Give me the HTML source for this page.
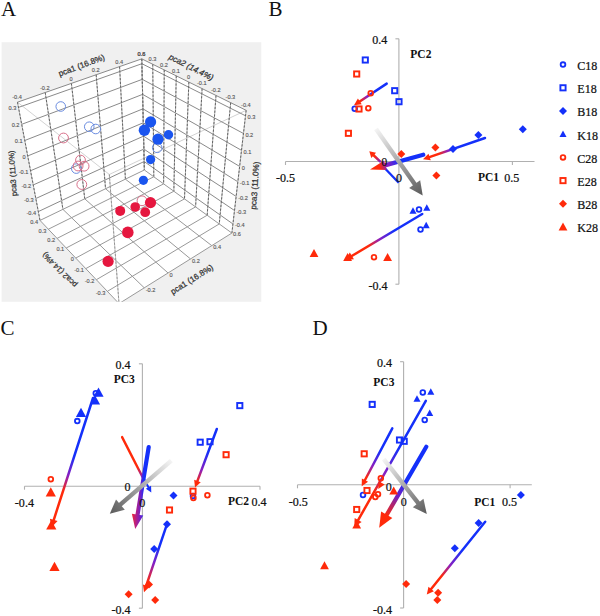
<!DOCTYPE html>
<html><head><meta charset="utf-8"><style>
html,body{margin:0;padding:0;background:#fff;}
svg{display:block;}
</style></head><body>
<svg width="600" height="616" viewBox="0 0 600 616">
<defs><clipPath id="clipA"><rect x="1.6" y="42.2" width="259.7" height="259.6"/></clipPath><linearGradient id="g1" gradientUnits="userSpaceOnUse" x1="386.7" y1="83.6" x2="354" y2="105.3"><stop offset="0" stop-color="#1430fa"/><stop offset="0.35" stop-color="#1430fa"/><stop offset="0.6" stop-color="#8a1fc0"/><stop offset="0.8" stop-color="#ff2a0a"/><stop offset="1" stop-color="#ff2a0a"/></linearGradient><linearGradient id="g2" gradientUnits="userSpaceOnUse" x1="380" y1="161.3" x2="369.3" y2="151.3"><stop offset="0" stop-color="#8a1fc0"/><stop offset="0.5" stop-color="#ff2a0a"/><stop offset="1" stop-color="#ff2a0a"/></linearGradient><linearGradient id="g3" gradientUnits="userSpaceOnUse" x1="485" y1="138" x2="423" y2="159.3"><stop offset="0" stop-color="#1430fa"/><stop offset="0.5" stop-color="#1430fa"/><stop offset="0.6" stop-color="#8a1fc0"/><stop offset="0.75" stop-color="#ff2a0a"/><stop offset="1" stop-color="#ff2a0a"/></linearGradient><linearGradient id="g4" gradientUnits="userSpaceOnUse" x1="422.2" y1="214" x2="345" y2="260"><stop offset="0" stop-color="#1430fa"/><stop offset="0.37" stop-color="#1430fa"/><stop offset="0.55" stop-color="#8a1fc0"/><stop offset="0.7" stop-color="#ff2a0a"/><stop offset="1" stop-color="#ff2a0a"/></linearGradient><linearGradient id="g5" gradientUnits="userSpaceOnUse" x1="423.3" y1="154.7" x2="370" y2="169.5"><stop offset="0" stop-color="#1430fa"/><stop offset="0.45" stop-color="#1430fa"/><stop offset="0.68" stop-color="#8a1fc0"/><stop offset="0.82" stop-color="#ff2a0a"/><stop offset="1" stop-color="#ff2a0a"/></linearGradient><linearGradient id="g6" gradientUnits="userSpaceOnUse" x1="376" y1="129" x2="422.7" y2="195.5"><stop offset="0" stop-color="#f4f4f4"/><stop offset="1" stop-color="#5a5a5a"/></linearGradient><linearGradient id="g7" gradientUnits="userSpaceOnUse" x1="93" y1="398" x2="51.3" y2="527.5"><stop offset="0" stop-color="#1430fa"/><stop offset="0.45" stop-color="#1430fa"/><stop offset="0.6" stop-color="#8a1fc0"/><stop offset="0.72" stop-color="#ff2a0a"/><stop offset="1" stop-color="#ff2a0a"/></linearGradient><linearGradient id="g8" gradientUnits="userSpaceOnUse" x1="142.5" y1="477" x2="122.1" y2="437.1"><stop offset="0" stop-color="#8a1fc0"/><stop offset="0.25" stop-color="#ff2a0a"/><stop offset="1" stop-color="#ff2a0a"/></linearGradient><linearGradient id="g9" gradientUnits="userSpaceOnUse" x1="149.5" y1="500" x2="130.5" y2="500"><stop offset="0" stop-color="#1430fa"/><stop offset="0.28" stop-color="#1430fa"/><stop offset="0.45" stop-color="#6a20d0"/><stop offset="0.75" stop-color="#c0207a"/><stop offset="1" stop-color="#ff2a0a"/></linearGradient><linearGradient id="g10" gradientUnits="userSpaceOnUse" x1="144" y1="479" x2="151.3" y2="492.5"><stop offset="0" stop-color="#1430fa"/><stop offset="1" stop-color="#1430fa"/></linearGradient><linearGradient id="g11" gradientUnits="userSpaceOnUse" x1="216.8" y1="429" x2="195" y2="487.5"><stop offset="0" stop-color="#1430fa"/><stop offset="0.4" stop-color="#1430fa"/><stop offset="0.7" stop-color="#8a1fc0"/><stop offset="0.9" stop-color="#ff2a0a"/><stop offset="1" stop-color="#ff2a0a"/></linearGradient><linearGradient id="g12" gradientUnits="userSpaceOnUse" x1="167.5" y1="522.7" x2="144" y2="592.2"><stop offset="0" stop-color="#1430fa"/><stop offset="0.35" stop-color="#1430fa"/><stop offset="0.6" stop-color="#8a1fc0"/><stop offset="0.85" stop-color="#ff2a0a"/><stop offset="1" stop-color="#ff2a0a"/></linearGradient><linearGradient id="g13" gradientUnits="userSpaceOnUse" x1="171.3" y1="460.7" x2="109.8" y2="513.7"><stop offset="0" stop-color="#f4f4f4"/><stop offset="1" stop-color="#5a5a5a"/></linearGradient><linearGradient id="g14" gradientUnits="userSpaceOnUse" x1="392.3" y1="428.3" x2="361.7" y2="486.3"><stop offset="0" stop-color="#1430fa"/><stop offset="0.4" stop-color="#1430fa"/><stop offset="0.65" stop-color="#8a1fc0"/><stop offset="0.85" stop-color="#ff2a0a"/><stop offset="1" stop-color="#ff2a0a"/></linearGradient><linearGradient id="g15" gradientUnits="userSpaceOnUse" x1="425.8" y1="400.8" x2="354.2" y2="527"><stop offset="0" stop-color="#1430fa"/><stop offset="0.38" stop-color="#1430fa"/><stop offset="0.58" stop-color="#8a1fc0"/><stop offset="0.72" stop-color="#ff2a0a"/><stop offset="1" stop-color="#ff2a0a"/></linearGradient><linearGradient id="g16" gradientUnits="userSpaceOnUse" x1="426.3" y1="446.7" x2="379.2" y2="527.8"><stop offset="0" stop-color="#1430fa"/><stop offset="0.4" stop-color="#1430fa"/><stop offset="0.6" stop-color="#6a20c8"/><stop offset="0.85" stop-color="#ff2a0a"/><stop offset="1" stop-color="#ff2a0a"/></linearGradient><linearGradient id="g17" gradientUnits="userSpaceOnUse" x1="485.2" y1="521.8" x2="426.8" y2="594.4"><stop offset="0" stop-color="#1430fa"/><stop offset="0.4" stop-color="#1430fa"/><stop offset="0.6" stop-color="#8a1fc0"/><stop offset="0.75" stop-color="#ff2a0a"/><stop offset="1" stop-color="#ff2a0a"/></linearGradient><linearGradient id="g18" gradientUnits="userSpaceOnUse" x1="425.8" y1="400.8" x2="378.3" y2="489"><stop offset="0" stop-color="#ff2a0a"/><stop offset="1" stop-color="#ff2a0a"/></linearGradient><linearGradient id="g19" gradientUnits="userSpaceOnUse" x1="383.7" y1="459.2" x2="426.8" y2="514"><stop offset="0" stop-color="#f4f4f4"/><stop offset="1" stop-color="#5a5a5a"/></linearGradient></defs>
<rect x="1.6" y="42.2" width="259.7" height="259.6" fill="#f0f0f0"/>
<g clip-path="url(#clipA)">
<polygon points="17.47,102.18 141.79,58.87 144.37,169.99 40,220.42" fill="#ffffff" />
<polygon points="141.79,58.87 246.15,110.32 231.89,233.06 144.37,169.99" fill="#ffffff" />
<polygon points="40,220.42 144.37,169.99 231.89,233.06 119.02,303.6" fill="#ffffff" />
<line x1="17.47" y1="102.18" x2="109.32" y2="174.46" stroke="#c6c6c6" stroke-width="0.8" />
<line x1="246.15" y1="110.32" x2="109.32" y2="174.46" stroke="#c6c6c6" stroke-width="0.8" />
<line x1="109.32" y1="174.46" x2="119.02" y2="303.6" stroke="#c0c0c0" stroke-width="0.9" />
<line x1="109.32" y1="174.46" x2="119.02" y2="303.6" stroke="#888" stroke-width="0.8" stroke-dasharray="2.2,1.6"/>
<line x1="18.46" y1="107.41" x2="141.91" y2="63.69" stroke="#8a8a8a" stroke-width="1.0" />
<line x1="21.69" y1="124.32" x2="142.27" y2="79.33" stroke="#8a8a8a" stroke-width="1.0" />
<line x1="24.77" y1="140.49" x2="142.62" y2="94.37" stroke="#8a8a8a" stroke-width="1.0" />
<line x1="27.71" y1="155.94" x2="142.95" y2="108.83" stroke="#8a8a8a" stroke-width="1.0" />
<line x1="30.53" y1="170.74" x2="143.27" y2="122.75" stroke="#8a8a8a" stroke-width="1.0" />
<line x1="33.24" y1="184.93" x2="143.58" y2="136.15" stroke="#8a8a8a" stroke-width="1.0" />
<line x1="35.83" y1="198.53" x2="143.88" y2="149.07" stroke="#8a8a8a" stroke-width="1.0" />
<line x1="38.32" y1="211.59" x2="144.17" y2="161.53" stroke="#8a8a8a" stroke-width="1.0" />
<line x1="17.47" y1="102.18" x2="141.79" y2="58.87" stroke="#8a8a8a" stroke-width="1.0" />
<line x1="17.47" y1="102.18" x2="40" y2="220.42" stroke="#b5b5b5" stroke-width="1.0" />
<line x1="17.47" y1="102.18" x2="40" y2="220.42" stroke="#5a5a5a" stroke-width="0.9" stroke-dasharray="2.2,1.6"/>
<line x1="45.21" y1="92.51" x2="62.92" y2="209.35" stroke="#b5b5b5" stroke-width="1.0" />
<line x1="45.21" y1="92.51" x2="62.92" y2="209.35" stroke="#5a5a5a" stroke-width="0.9" stroke-dasharray="2.2,1.6"/>
<line x1="71.4" y1="83.39" x2="84.74" y2="198.8" stroke="#b5b5b5" stroke-width="1.0" />
<line x1="71.4" y1="83.39" x2="84.74" y2="198.8" stroke="#5a5a5a" stroke-width="0.9" stroke-dasharray="2.2,1.6"/>
<line x1="96.15" y1="74.77" x2="105.55" y2="188.75" stroke="#b5b5b5" stroke-width="1.0" />
<line x1="96.15" y1="74.77" x2="105.55" y2="188.75" stroke="#5a5a5a" stroke-width="0.9" stroke-dasharray="2.2,1.6"/>
<line x1="119.58" y1="66.61" x2="125.4" y2="179.16" stroke="#b5b5b5" stroke-width="1.0" />
<line x1="119.58" y1="66.61" x2="125.4" y2="179.16" stroke="#5a5a5a" stroke-width="0.9" stroke-dasharray="2.2,1.6"/>
<line x1="141.79" y1="58.87" x2="144.37" y2="169.99" stroke="#b5b5b5" stroke-width="1.0" />
<line x1="141.79" y1="58.87" x2="144.37" y2="169.99" stroke="#5a5a5a" stroke-width="0.9" stroke-dasharray="2.2,1.6"/>
<line x1="141.91" y1="63.69" x2="245.52" y2="115.79" stroke="#8a8a8a" stroke-width="1.0" />
<line x1="142.27" y1="79.33" x2="243.46" y2="133.48" stroke="#8a8a8a" stroke-width="1.0" />
<line x1="142.62" y1="94.37" x2="241.5" y2="150.33" stroke="#8a8a8a" stroke-width="1.0" />
<line x1="142.95" y1="108.83" x2="239.63" y2="166.41" stroke="#8a8a8a" stroke-width="1.0" />
<line x1="143.27" y1="122.75" x2="237.85" y2="181.77" stroke="#8a8a8a" stroke-width="1.0" />
<line x1="143.58" y1="136.15" x2="236.14" y2="196.45" stroke="#8a8a8a" stroke-width="1.0" />
<line x1="143.88" y1="149.07" x2="234.51" y2="210.51" stroke="#8a8a8a" stroke-width="1.0" />
<line x1="144.17" y1="161.53" x2="232.94" y2="223.97" stroke="#8a8a8a" stroke-width="1.0" />
<line x1="141.79" y1="58.87" x2="246.15" y2="110.32" stroke="#8a8a8a" stroke-width="1.0" />
<line x1="141.79" y1="58.87" x2="144.37" y2="169.99" stroke="#b5b5b5" stroke-width="1.0" />
<line x1="141.79" y1="58.87" x2="144.37" y2="169.99" stroke="#5a5a5a" stroke-width="0.9" stroke-dasharray="2.2,1.6"/>
<line x1="152.75" y1="64.27" x2="153.81" y2="176.8" stroke="#b5b5b5" stroke-width="1.0" />
<line x1="152.75" y1="64.27" x2="153.81" y2="176.8" stroke="#5a5a5a" stroke-width="0.9" stroke-dasharray="2.2,1.6"/>
<line x1="164.23" y1="69.93" x2="163.63" y2="183.87" stroke="#b5b5b5" stroke-width="1.0" />
<line x1="164.23" y1="69.93" x2="163.63" y2="183.87" stroke="#5a5a5a" stroke-width="0.9" stroke-dasharray="2.2,1.6"/>
<line x1="176.25" y1="75.86" x2="173.85" y2="191.24" stroke="#b5b5b5" stroke-width="1.0" />
<line x1="176.25" y1="75.86" x2="173.85" y2="191.24" stroke="#5a5a5a" stroke-width="0.9" stroke-dasharray="2.2,1.6"/>
<line x1="188.86" y1="82.07" x2="184.49" y2="198.9" stroke="#b5b5b5" stroke-width="1.0" />
<line x1="188.86" y1="82.07" x2="184.49" y2="198.9" stroke="#5a5a5a" stroke-width="0.9" stroke-dasharray="2.2,1.6"/>
<line x1="202.1" y1="88.6" x2="195.58" y2="206.9" stroke="#b5b5b5" stroke-width="1.0" />
<line x1="202.1" y1="88.6" x2="195.58" y2="206.9" stroke="#5a5a5a" stroke-width="0.9" stroke-dasharray="2.2,1.6"/>
<line x1="216.03" y1="95.47" x2="207.16" y2="215.24" stroke="#b5b5b5" stroke-width="1.0" />
<line x1="216.03" y1="95.47" x2="207.16" y2="215.24" stroke="#5a5a5a" stroke-width="0.9" stroke-dasharray="2.2,1.6"/>
<line x1="230.69" y1="102.69" x2="219.25" y2="223.95" stroke="#b5b5b5" stroke-width="1.0" />
<line x1="230.69" y1="102.69" x2="219.25" y2="223.95" stroke="#5a5a5a" stroke-width="0.9" stroke-dasharray="2.2,1.6"/>
<line x1="246.15" y1="110.32" x2="231.89" y2="233.06" stroke="#b5b5b5" stroke-width="1.0" />
<line x1="246.15" y1="110.32" x2="231.89" y2="233.06" stroke="#5a5a5a" stroke-width="0.9" stroke-dasharray="2.2,1.6"/>
<line x1="40" y1="220.42" x2="119.02" y2="303.6" stroke="#999" stroke-width="1.0" />
<line x1="62.92" y1="209.35" x2="144.25" y2="287.82" stroke="#999" stroke-width="1.0" />
<line x1="84.74" y1="198.8" x2="168.04" y2="272.96" stroke="#999" stroke-width="1.0" />
<line x1="105.55" y1="188.75" x2="190.51" y2="258.92" stroke="#999" stroke-width="1.0" />
<line x1="125.4" y1="179.16" x2="211.76" y2="245.64" stroke="#999" stroke-width="1.0" />
<line x1="144.37" y1="169.99" x2="231.89" y2="233.06" stroke="#999" stroke-width="1.0" />
<line x1="40" y1="220.42" x2="144.37" y2="169.99" stroke="#999" stroke-width="1.0" />
<line x1="48.35" y1="229.21" x2="153.81" y2="176.8" stroke="#999" stroke-width="1.0" />
<line x1="57.08" y1="238.4" x2="163.63" y2="183.87" stroke="#999" stroke-width="1.0" />
<line x1="66.21" y1="248.01" x2="173.85" y2="191.24" stroke="#999" stroke-width="1.0" />
<line x1="75.78" y1="258.07" x2="184.49" y2="198.9" stroke="#999" stroke-width="1.0" />
<line x1="85.8" y1="268.63" x2="195.58" y2="206.9" stroke="#999" stroke-width="1.0" />
<line x1="96.32" y1="279.71" x2="207.16" y2="215.24" stroke="#999" stroke-width="1.0" />
<line x1="107.38" y1="291.35" x2="219.25" y2="223.95" stroke="#999" stroke-width="1.0" />
<line x1="119.02" y1="303.6" x2="231.89" y2="233.06" stroke="#999" stroke-width="1.0" />
</g>
<circle cx="60.75" cy="106.5" r="4.8" fill="none" stroke="#6a8ce0" stroke-width="1.0"/>
<circle cx="89.25" cy="126.75" r="4.8" fill="none" stroke="#6a8ce0" stroke-width="1.0"/>
<circle cx="95.75" cy="129" r="4.8" fill="none" stroke="#6a8ce0" stroke-width="1.0"/>
<circle cx="76.3" cy="168.6" r="4.8" fill="none" stroke="#6a8ce0" stroke-width="1.0"/>
<circle cx="157.2" cy="147.8" r="4.8" fill="none" stroke="#6a8ce0" stroke-width="1.0"/>
<circle cx="63.5" cy="138" r="4.9" fill="none" stroke="#d8708a" stroke-width="1.0"/>
<circle cx="80.5" cy="160.1" r="4.9" fill="none" stroke="#d8708a" stroke-width="1.0"/>
<circle cx="78.1" cy="166" r="4.9" fill="none" stroke="#d8708a" stroke-width="1.0"/>
<circle cx="84.1" cy="166.2" r="4.9" fill="none" stroke="#d8708a" stroke-width="1.0"/>
<circle cx="81.8" cy="184.5" r="4.9" fill="none" stroke="#d8708a" stroke-width="1.0"/>
<circle cx="142" cy="200.8" r="4.9" fill="none" stroke="#d8708a" stroke-width="1.0"/>
<circle cx="150.6" cy="121.9" r="5.6" fill="#1a55ef" stroke="none" stroke-width="1"/>
<circle cx="144.4" cy="130.3" r="5.7" fill="#1a55ef" stroke="none" stroke-width="1"/>
<circle cx="158" cy="139.2" r="5.6" fill="#1a55ef" stroke="none" stroke-width="1"/>
<circle cx="168.5" cy="134.8" r="4.7" fill="#1a55ef" stroke="none" stroke-width="1"/>
<circle cx="150.6" cy="159.6" r="4.6" fill="#1a55ef" stroke="none" stroke-width="1"/>
<circle cx="143.4" cy="180.3" r="4.6" fill="#1a55ef" stroke="none" stroke-width="1"/>
<circle cx="150.5" cy="202.6" r="5.6" fill="#e5173f" stroke="none" stroke-width="1"/>
<circle cx="135.2" cy="207" r="4.8" fill="#e5173f" stroke="none" stroke-width="1"/>
<circle cx="145.2" cy="212.2" r="4.9" fill="#e5173f" stroke="none" stroke-width="1"/>
<circle cx="120.2" cy="210.9" r="5" fill="#e5173f" stroke="none" stroke-width="1"/>
<circle cx="127.8" cy="232.4" r="5.8" fill="#e5173f" stroke="none" stroke-width="1"/>
<circle cx="108.1" cy="261.4" r="5.6" fill="#e5173f" stroke="none" stroke-width="1"/>
<text x="17.07" y="99.38" font-family="Liberation Sans" font-size="5.6" text-anchor="middle" fill="#555" stroke="#555" stroke-width="0.12"  >-0.4</text>
<text x="44.81" y="89.71" font-family="Liberation Sans" font-size="5.6" text-anchor="middle" fill="#555" stroke="#555" stroke-width="0.12"  >-0.2</text>
<text x="71" y="80.59" font-family="Liberation Sans" font-size="5.6" text-anchor="middle" fill="#555" stroke="#555" stroke-width="0.12"  >0</text>
<text x="95.75" y="71.97" font-family="Liberation Sans" font-size="5.6" text-anchor="middle" fill="#555" stroke="#555" stroke-width="0.12"  >0.2</text>
<text x="119.18" y="63.81" font-family="Liberation Sans" font-size="5.6" text-anchor="middle" fill="#555" stroke="#555" stroke-width="0.12"  >0.4</text>
<text x="141.39" y="56.07" font-family="Liberation Sans" font-size="5.6" text-anchor="middle" fill="#555" stroke="#555" stroke-width="0.12"  >0.6</text>
<text x="141.49" y="55.67" font-family="Liberation Sans" font-size="5.6" text-anchor="middle" fill="#555" stroke="#555" stroke-width="0.12"  >0.8</text>
<text x="152.45" y="61.07" font-family="Liberation Sans" font-size="5.6" text-anchor="middle" fill="#555" stroke="#555" stroke-width="0.12"  >0.3</text>
<text x="163.93" y="66.73" font-family="Liberation Sans" font-size="5.6" text-anchor="middle" fill="#555" stroke="#555" stroke-width="0.12"  >0.2</text>
<text x="175.95" y="72.66" font-family="Liberation Sans" font-size="5.6" text-anchor="middle" fill="#555" stroke="#555" stroke-width="0.12"  >0.1</text>
<text x="188.56" y="78.87" font-family="Liberation Sans" font-size="5.6" text-anchor="middle" fill="#555" stroke="#555" stroke-width="0.12"  >0</text>
<text x="201.8" y="85.4" font-family="Liberation Sans" font-size="5.6" text-anchor="middle" fill="#555" stroke="#555" stroke-width="0.12"  >-0.1</text>
<text x="215.73" y="92.27" font-family="Liberation Sans" font-size="5.6" text-anchor="middle" fill="#555" stroke="#555" stroke-width="0.12"  >-0.2</text>
<text x="230.39" y="99.49" font-family="Liberation Sans" font-size="5.6" text-anchor="middle" fill="#555" stroke="#555" stroke-width="0.12"  >-0.3</text>
<text x="245.85" y="107.12" font-family="Liberation Sans" font-size="5.6" text-anchor="middle" fill="#555" stroke="#555" stroke-width="0.12"  >-0.4</text>
<text x="16.26" y="110.41" font-family="Liberation Sans" font-size="5.6" text-anchor="end" fill="#555" stroke="#555" stroke-width="0.12"  >0.3</text>
<text x="19.49" y="127.32" font-family="Liberation Sans" font-size="5.6" text-anchor="end" fill="#555" stroke="#555" stroke-width="0.12"  >0.2</text>
<text x="22.57" y="143.49" font-family="Liberation Sans" font-size="5.6" text-anchor="end" fill="#555" stroke="#555" stroke-width="0.12"  >0.1</text>
<text x="25.51" y="158.94" font-family="Liberation Sans" font-size="5.6" text-anchor="end" fill="#555" stroke="#555" stroke-width="0.12"  >0</text>
<text x="28.33" y="173.74" font-family="Liberation Sans" font-size="5.6" text-anchor="end" fill="#555" stroke="#555" stroke-width="0.12"  >-0.1</text>
<text x="31.04" y="187.93" font-family="Liberation Sans" font-size="5.6" text-anchor="end" fill="#555" stroke="#555" stroke-width="0.12"  >-0.2</text>
<text x="33.63" y="201.53" font-family="Liberation Sans" font-size="5.6" text-anchor="end" fill="#555" stroke="#555" stroke-width="0.12"  >-0.3</text>
<text x="36.12" y="214.59" font-family="Liberation Sans" font-size="5.6" text-anchor="end" fill="#555" stroke="#555" stroke-width="0.12"  >-0.4</text>
<text x="247.52" y="119.29" font-family="Liberation Sans" font-size="5.6" text-anchor="start" fill="#555" stroke="#555" stroke-width="0.12"  >0.3</text>
<text x="245.46" y="136.98" font-family="Liberation Sans" font-size="5.6" text-anchor="start" fill="#555" stroke="#555" stroke-width="0.12"  >0.2</text>
<text x="243.5" y="153.83" font-family="Liberation Sans" font-size="5.6" text-anchor="start" fill="#555" stroke="#555" stroke-width="0.12"  >0.1</text>
<text x="241.63" y="169.91" font-family="Liberation Sans" font-size="5.6" text-anchor="start" fill="#555" stroke="#555" stroke-width="0.12"  >0</text>
<text x="239.85" y="185.27" font-family="Liberation Sans" font-size="5.6" text-anchor="start" fill="#555" stroke="#555" stroke-width="0.12"  >-0.1</text>
<text x="238.14" y="199.95" font-family="Liberation Sans" font-size="5.6" text-anchor="start" fill="#555" stroke="#555" stroke-width="0.12"  >-0.2</text>
<text x="236.51" y="214.01" font-family="Liberation Sans" font-size="5.6" text-anchor="start" fill="#555" stroke="#555" stroke-width="0.12"  >-0.3</text>
<text x="234.94" y="227.47" font-family="Liberation Sans" font-size="5.6" text-anchor="start" fill="#555" stroke="#555" stroke-width="0.12"  >-0.4</text>
<text x="233.09" y="236.26" font-family="Liberation Sans" font-size="5.6" text-anchor="start" fill="#555" stroke="#555" stroke-width="0.12"  >0.6</text>
<text x="38" y="223.72" font-family="Liberation Sans" font-size="5.6" text-anchor="end" fill="#555" stroke="#555" stroke-width="0.12"  >0.4</text>
<text x="46.35" y="232.51" font-family="Liberation Sans" font-size="5.6" text-anchor="end" fill="#555" stroke="#555" stroke-width="0.12"  >0.3</text>
<text x="55.08" y="241.7" font-family="Liberation Sans" font-size="5.6" text-anchor="end" fill="#555" stroke="#555" stroke-width="0.12"  >0.2</text>
<text x="64.21" y="251.31" font-family="Liberation Sans" font-size="5.6" text-anchor="end" fill="#555" stroke="#555" stroke-width="0.12"  >0.1</text>
<text x="73.78" y="261.37" font-family="Liberation Sans" font-size="5.6" text-anchor="end" fill="#555" stroke="#555" stroke-width="0.12"  >0</text>
<text x="83.8" y="271.93" font-family="Liberation Sans" font-size="5.6" text-anchor="end" fill="#555" stroke="#555" stroke-width="0.12"  >-0.1</text>
<text x="94.32" y="283.01" font-family="Liberation Sans" font-size="5.6" text-anchor="end" fill="#555" stroke="#555" stroke-width="0.12"  >-0.2</text>
<text x="105.38" y="294.65" font-family="Liberation Sans" font-size="5.6" text-anchor="end" fill="#555" stroke="#555" stroke-width="0.12"  >-0.3</text>
<text x="145.75" y="291.62" font-family="Liberation Sans" font-size="5.6" text-anchor="start" fill="#555" stroke="#555" stroke-width="0.12"  >-0.2</text>
<text x="169.54" y="276.76" font-family="Liberation Sans" font-size="5.6" text-anchor="start" fill="#555" stroke="#555" stroke-width="0.12"  >0</text>
<text x="192.01" y="262.72" font-family="Liberation Sans" font-size="5.6" text-anchor="start" fill="#555" stroke="#555" stroke-width="0.12"  >0.2</text>
<text x="213.26" y="249.44" font-family="Liberation Sans" font-size="5.6" text-anchor="start" fill="#555" stroke="#555" stroke-width="0.12"  >0.4</text>
<text x="82.56" y="68" font-family="Liberation Sans" font-size="8.2" text-anchor="middle" fill="#333" stroke="#333" stroke-width="0.25" transform="rotate(-20.5 82.56 68)" >pca1 (16.8%)</text>
<text x="189.88" y="69.69" font-family="Liberation Sans" font-size="8.2" text-anchor="middle" fill="#333" stroke="#333" stroke-width="0.25" transform="rotate(27 189.88 69.69)" font-style="italic">pca2 (14.4%)</text>
<text x="15.33" y="173.14" font-family="Liberation Sans" font-size="7.8" text-anchor="middle" fill="#333" stroke="#333" stroke-width="0.25" transform="rotate(-94 15.33 173.14)" >pca3 (11.0%)</text>
<text x="257.65" y="185.77" font-family="Liberation Sans" font-size="8.2" text-anchor="middle" fill="#333" stroke="#333" stroke-width="0.25" transform="rotate(-86 257.65 185.77)" >pca3 (11.0%)</text>
<text x="61.45" y="267.98" font-family="Liberation Sans" font-size="7.7" text-anchor="middle" fill="#333" stroke="#333" stroke-width="0.25" transform="rotate(225.5 61.45 267.98)" >pca2 (14.4%)</text>
<text x="193.3" y="281.79" font-family="Liberation Sans" font-size="8.2" text-anchor="middle" fill="#333" stroke="#333" stroke-width="0.25" transform="rotate(-32 193.3 281.79)" >pca1 (16.8%)</text>
<text x="1" y="16" font-family="Liberation Serif" font-size="21" font-weight="normal" text-anchor="start" fill="#111" >A</text>
<text x="268.5" y="16" font-family="Liberation Serif" font-size="21" font-weight="normal" text-anchor="start" fill="#111" >B</text>
<text x="0.5" y="334.7" font-family="Liberation Serif" font-size="21" font-weight="normal" text-anchor="start" fill="#111" >C</text>
<text x="312.5" y="335" font-family="Liberation Serif" font-size="21" font-weight="normal" text-anchor="start" fill="#111" >D</text>
<line x1="285.5" y1="161.5" x2="534.5" y2="161.5" stroke="#b0b0b0" stroke-width="1.1" />
<line x1="398.9" y1="38.8" x2="398.9" y2="284.2" stroke="#b0b0b0" stroke-width="1.1" />
<line x1="285.5" y1="161.5" x2="285.5" y2="165" stroke="#b0b0b0" stroke-width="1.1" />
<line x1="512.4" y1="161.5" x2="512.4" y2="165" stroke="#b0b0b0" stroke-width="1.1" />
<line x1="395.4" y1="38.8" x2="398.9" y2="38.8" stroke="#b0b0b0" stroke-width="1.1" />
<line x1="395.4" y1="284.2" x2="398.9" y2="284.2" stroke="#b0b0b0" stroke-width="1.1" />
<g id="B">
<line x1="385.3" y1="168.7" x2="398.7" y2="182.7" stroke="#1430fa" stroke-width="2.3" />
<line x1="386.7" y1="83.6" x2="358.96" y2="102.01" stroke="url(#g1)" stroke-width="2.5" stroke-linecap="round"/>
<polygon points="354,105.3 357.9,98.51 361.77,104.35" fill="url(#g1)"/>
<line x1="380" y1="161.3" x2="373.03" y2="154.78" stroke="url(#g2)" stroke-width="2.5" stroke-linecap="round"/>
<polygon points="369.3,151.3 376.07,152.84 371.29,157.95" fill="url(#g2)"/>
<line x1="485" y1="138" x2="428.63" y2="157.37" stroke="url(#g3)" stroke-width="2.5" stroke-linecap="round"/>
<polygon points="423,159.3 428.48,153.72 430.76,160.34" fill="url(#g3)"/>
<line x1="422.2" y1="214" x2="350.84" y2="256.52" stroke="url(#g4)" stroke-width="2.5" stroke-linecap="round"/>
<polygon points="345,260 349.82,252.47 353.92,259.34" fill="url(#g4)"/>
<line x1="423.3" y1="154.7" x2="383.1" y2="165.86" stroke="url(#g5)" stroke-width="4.2" stroke-linecap="round"/>
<polygon points="370,169.5 384.08,160.4 386.75,170.04" fill="url(#g5)"/>
<line x1="376" y1="129" x2="415.86" y2="185.76" stroke="url(#g6)" stroke-width="4.4" stroke-linecap="butt"/>
<polygon points="422.7,195.5 409.13,187.92 420.18,180.16" fill="url(#g6)"/>
</g>
<circle cx="354.7" cy="108.7" r="2.35" fill="none" stroke="#1430fa" stroke-width="1.8"/>
<circle cx="419" cy="209.5" r="2.35" fill="none" stroke="#1430fa" stroke-width="1.8"/>
<circle cx="420.5" cy="229.5" r="2.35" fill="none" stroke="#1430fa" stroke-width="1.8"/>
<rect x="362.7" y="57.4" width="5.2" height="5.2" fill="none" stroke="#1430fa" stroke-width="1.9"/>
<rect x="392.1" y="88.1" width="5.2" height="5.2" fill="none" stroke="#1430fa" stroke-width="1.9"/>
<rect x="396.4" y="99.1" width="5.2" height="5.2" fill="none" stroke="#1430fa" stroke-width="1.9"/>
<polygon points="522.8,125.2 526.8,129.2 522.8,133.2 518.8,129.2" fill="#1430fa"/>
<polygon points="478.4,131 482.4,135 478.4,139 474.4,135" fill="#1430fa"/>
<polygon points="453,145 457,149 453,153 449,149" fill="#1430fa"/>
<polygon points="413,207.32 416.52,213.72 409.48,213.72" fill="#1430fa"/>
<polygon points="426.8,204.32 430.32,210.72 423.28,210.72" fill="#1430fa"/>
<polygon points="426.2,221.82 429.72,228.22 422.68,228.22" fill="#1430fa"/>
<circle cx="370.7" cy="93.3" r="2.35" fill="none" stroke="#ff2a0a" stroke-width="1.8"/>
<circle cx="368.3" cy="108.3" r="2.35" fill="none" stroke="#ff2a0a" stroke-width="1.8"/>
<circle cx="374" cy="257.2" r="2.35" fill="none" stroke="#ff2a0a" stroke-width="1.8"/>
<rect x="354.1" y="71.4" width="5.2" height="5.2" fill="none" stroke="#ff2a0a" stroke-width="1.9"/>
<rect x="356.4" y="106.4" width="5.2" height="5.2" fill="none" stroke="#ff2a0a" stroke-width="1.9"/>
<rect x="345.8" y="130.7" width="5.2" height="5.2" fill="none" stroke="#ff2a0a" stroke-width="1.9"/>
<polygon points="401.3,150 405.3,154 401.3,158 397.3,154" fill="#ff2a0a"/>
<polygon points="435.4,143.6 439.4,147.6 435.4,151.6 431.4,147.6" fill="#ff2a0a"/>
<polygon points="436.4,171.6 440.4,175.6 436.4,179.6 432.4,175.6" fill="#ff2a0a"/>
<polygon points="314,249 318.4,257 309.6,257" fill="#ff2a0a"/>
<polygon points="347.6,253 352,261 343.2,261" fill="#ff2a0a"/>
<polygon points="387.6,253 392,261 383.2,261" fill="#ff2a0a"/>
<text transform="scale(0.9 1)" x="430.22" y="44" font-family="Liberation Serif" font-size="13.4" font-weight="normal" text-anchor="end" fill="#111" stroke="#111" stroke-width="0.25">0.4</text>
<text transform="scale(0.9 1)" x="430.44" y="166.3" font-family="Liberation Serif" font-size="13.4" font-weight="normal" text-anchor="end" fill="#111" stroke="#111" stroke-width="0.25">0</text>
<text transform="scale(0.9 1)" x="443.44" y="181.9" font-family="Liberation Serif" font-size="13.4" font-weight="normal" text-anchor="middle" fill="#111" stroke="#111" stroke-width="0.25">0</text>
<text transform="scale(0.9 1)" x="317.33" y="182.4" font-family="Liberation Serif" font-size="13.4" font-weight="normal" text-anchor="middle" fill="#111" stroke="#111" stroke-width="0.25">-0.5</text>
<text transform="scale(0.9 1)" x="568.67" y="181.8" font-family="Liberation Serif" font-size="13.4" font-weight="normal" text-anchor="middle" fill="#111" stroke="#111" stroke-width="0.25">0.5</text>
<text transform="scale(0.9 1)" x="430.56" y="289.6" font-family="Liberation Serif" font-size="13.4" font-weight="normal" text-anchor="end" fill="#111" stroke="#111" stroke-width="0.25">-0.4</text>
<text x="410.3" y="57.5" font-family="Liberation Serif" font-size="11.5" font-weight="bold" text-anchor="start" fill="#111" >PC2</text>
<text x="478" y="181.2" font-family="Liberation Serif" font-size="11.5" font-weight="bold" text-anchor="start" fill="#111" >PC1</text>
<circle cx="563" cy="64.6" r="2.35" fill="none" stroke="#1430fa" stroke-width="1.8"/>
<text transform="scale(0.9 1)" x="641.44" y="70" font-family="Liberation Serif" font-size="13.4" font-weight="normal" text-anchor="start" fill="#111" stroke="#111" stroke-width="0.25">C18</text>
<rect x="560.4" y="85.2" width="5.2" height="5.2" fill="none" stroke="#1430fa" stroke-width="1.9"/>
<text transform="scale(0.9 1)" x="641.44" y="93.2" font-family="Liberation Serif" font-size="13.4" font-weight="normal" text-anchor="start" fill="#111" stroke="#111" stroke-width="0.25">E18</text>
<polygon points="563,107 567,111 563,115 559,111" fill="#1430fa"/>
<text transform="scale(0.9 1)" x="641.44" y="116.4" font-family="Liberation Serif" font-size="13.4" font-weight="normal" text-anchor="start" fill="#111" stroke="#111" stroke-width="0.25">B18</text>
<polygon points="563,130.52 566.52,136.92 559.48,136.92" fill="#1430fa"/>
<text transform="scale(0.9 1)" x="641.44" y="139.6" font-family="Liberation Serif" font-size="13.4" font-weight="normal" text-anchor="start" fill="#111" stroke="#111" stroke-width="0.25">K18</text>
<circle cx="563" cy="157.4" r="2.35" fill="none" stroke="#ff2a0a" stroke-width="1.8"/>
<text transform="scale(0.9 1)" x="641.44" y="162.8" font-family="Liberation Serif" font-size="13.4" font-weight="normal" text-anchor="start" fill="#111" stroke="#111" stroke-width="0.25">C28</text>
<rect x="560.4" y="178" width="5.2" height="5.2" fill="none" stroke="#ff2a0a" stroke-width="1.9"/>
<text transform="scale(0.9 1)" x="641.44" y="186" font-family="Liberation Serif" font-size="13.4" font-weight="normal" text-anchor="start" fill="#111" stroke="#111" stroke-width="0.25">E28</text>
<polygon points="563,199.8 567,203.8 563,207.8 559,203.8" fill="#ff2a0a"/>
<text transform="scale(0.9 1)" x="641.44" y="209.2" font-family="Liberation Serif" font-size="13.4" font-weight="normal" text-anchor="start" fill="#111" stroke="#111" stroke-width="0.25">B28</text>
<polygon points="563,222.4 567.4,230.4 558.6,230.4" fill="#ff2a0a"/>
<text transform="scale(0.9 1)" x="641.44" y="232.4" font-family="Liberation Serif" font-size="13.4" font-weight="normal" text-anchor="start" fill="#111" stroke="#111" stroke-width="0.25">K28</text>
<line x1="24.5" y1="486.2" x2="260" y2="486.2" stroke="#b0b0b0" stroke-width="1.1" />
<line x1="142.4" y1="363.8" x2="142.4" y2="608.2" stroke="#b0b0b0" stroke-width="1.1" />
<line x1="24.5" y1="486.2" x2="24.5" y2="489.7" stroke="#b0b0b0" stroke-width="1.1" />
<line x1="260" y1="486.2" x2="260" y2="489.7" stroke="#b0b0b0" stroke-width="1.1" />
<line x1="138.9" y1="363.8" x2="142.4" y2="363.8" stroke="#b0b0b0" stroke-width="1.1" />
<line x1="138.9" y1="608.2" x2="142.4" y2="608.2" stroke="#b0b0b0" stroke-width="1.1" />
<line x1="93" y1="398" x2="53.38" y2="521.03" stroke="url(#g7)" stroke-width="2.5" stroke-linecap="round"/>
<polygon points="51.3,527.5 49.94,518.66 57.56,521.11" fill="url(#g7)"/>
<line x1="142.5" y1="477" x2="122.1" y2="437.1" stroke="url(#g8)" stroke-width="2.4" stroke-linecap="round"/>
<line x1="148.7" y1="447.1" x2="137.21" y2="516.74" stroke="url(#g9)" stroke-width="4.2" stroke-linecap="round"/>
<polygon points="135.2,528.9 131.89,513.66 143.23,515.53" fill="url(#g9)"/>
<line x1="144" y1="479" x2="148.87" y2="488.01" stroke="url(#g10)" stroke-width="2" stroke-linecap="round"/>
<polygon points="151.3,492.5 145.81,488.65 151.08,485.8" fill="url(#g10)"/>
<line x1="216.8" y1="429" x2="197.08" y2="481.92" stroke="url(#g11)" stroke-width="2.5" stroke-linecap="round"/>
<polygon points="195,487.5 194.16,479.72 200.72,482.16" fill="url(#g11)"/>
<line x1="167.5" y1="522.7" x2="145.91" y2="586.56" stroke="url(#g12)" stroke-width="2.5" stroke-linecap="round"/>
<polygon points="144,592.2 142.93,584.45 149.56,586.69" fill="url(#g12)"/>
<line x1="171.3" y1="460.7" x2="118.81" y2="505.93" stroke="url(#g13)" stroke-width="4.4" stroke-linecap="butt"/>
<polygon points="109.8,513.7 116,499.45 124.81,509.67" fill="url(#g13)"/>
<circle cx="95.8" cy="393.3" r="2.35" fill="none" stroke="#1430fa" stroke-width="1.8"/>
<circle cx="77.3" cy="421.1" r="2.35" fill="none" stroke="#1430fa" stroke-width="1.8"/>
<circle cx="193" cy="496" r="2.35" fill="none" stroke="#1430fa" stroke-width="1.8"/>
<rect x="237.2" y="403" width="5.2" height="5.2" fill="none" stroke="#1430fa" stroke-width="1.9"/>
<rect x="197.6" y="439.6" width="5.2" height="5.2" fill="none" stroke="#1430fa" stroke-width="1.9"/>
<rect x="207.4" y="439.1" width="5.2" height="5.2" fill="none" stroke="#1430fa" stroke-width="1.9"/>
<polygon points="173.5,491.6 177.5,495.6 173.5,499.6 169.5,495.6" fill="#1430fa"/>
<polygon points="167,520.3 171,524.3 167,528.3 163,524.3" fill="#1430fa"/>
<polygon points="154.2,544.9 158.2,548.9 154.2,552.9 150.2,548.9" fill="#1430fa"/>
<polygon points="98.5,387.46 103.6,396.74 93.4,396.74" fill="#1430fa"/>
<polygon points="95,395.16 100.1,404.44 89.9,404.44" fill="#1430fa"/>
<polygon points="81,407.66 86.1,416.94 75.9,416.94" fill="#1430fa"/>
<circle cx="50.8" cy="479.3" r="2.35" fill="none" stroke="#ff2a0a" stroke-width="1.8"/>
<circle cx="207.4" cy="495.2" r="2.35" fill="none" stroke="#ff2a0a" stroke-width="1.8"/>
<circle cx="193.4" cy="498" r="2.35" fill="none" stroke="#ff2a0a" stroke-width="1.8"/>
<rect x="223.5" y="452.1" width="5.2" height="5.2" fill="none" stroke="#ff2a0a" stroke-width="1.9"/>
<rect x="190.4" y="488.6" width="5.2" height="5.2" fill="none" stroke="#ff2a0a" stroke-width="1.9"/>
<rect x="166.9" y="507.4" width="5.2" height="5.2" fill="none" stroke="#ff2a0a" stroke-width="1.9"/>
<polygon points="149,580.5 153,584.5 149,588.5 145,584.5" fill="#ff2a0a"/>
<polygon points="128.6,590.3 132.6,594.3 128.6,598.3 124.6,594.3" fill="#ff2a0a"/>
<polygon points="155.2,596 159.2,600 155.2,604 151.2,600" fill="#ff2a0a"/>
<polygon points="50.8,487.16 55.9,496.44 45.7,496.44" fill="#ff2a0a"/>
<polygon points="51.3,520.16 56.4,529.44 46.2,529.44" fill="#ff2a0a"/>
<polygon points="54.5,561.66 59.6,570.94 49.4,570.94" fill="#ff2a0a"/>
<text transform="scale(0.9 1)" x="145.11" y="368.8" font-family="Liberation Serif" font-size="13.4" font-weight="normal" text-anchor="end" fill="#111" stroke="#111" stroke-width="0.25">0.4</text>
<text x="113.7" y="382.5" font-family="Liberation Serif" font-size="11.5" font-weight="bold" text-anchor="start" fill="#111" >PC3</text>
<text transform="scale(0.9 1)" x="145.11" y="491" font-family="Liberation Serif" font-size="13.4" font-weight="normal" text-anchor="end" fill="#111" stroke="#111" stroke-width="0.25">0</text>
<text transform="scale(0.9 1)" x="158.11" y="506.7" font-family="Liberation Serif" font-size="13.4" font-weight="normal" text-anchor="middle" fill="#111" stroke="#111" stroke-width="0.25">0</text>
<text transform="scale(0.9 1)" x="27.11" y="507.2" font-family="Liberation Serif" font-size="13.4" font-weight="normal" text-anchor="middle" fill="#111" stroke="#111" stroke-width="0.25">-0.4</text>
<text transform="scale(0.9 1)" x="287.78" y="505.8" font-family="Liberation Serif" font-size="13.4" font-weight="normal" text-anchor="middle" fill="#111" stroke="#111" stroke-width="0.25">0.4</text>
<text transform="scale(0.9 1)" x="145.11" y="614.4" font-family="Liberation Serif" font-size="13.4" font-weight="normal" text-anchor="end" fill="#111" stroke="#111" stroke-width="0.25">-0.4</text>
<text x="228" y="505" font-family="Liberation Serif" font-size="11.5" font-weight="bold" text-anchor="start" fill="#111" >PC2</text>
<line x1="297.5" y1="484.8" x2="531.8" y2="484.8" stroke="#b0b0b0" stroke-width="1.1" />
<line x1="403.6" y1="361.7" x2="403.6" y2="608" stroke="#b0b0b0" stroke-width="1.1" />
<line x1="297.5" y1="484.8" x2="297.5" y2="488.3" stroke="#b0b0b0" stroke-width="1.1" />
<line x1="510.1" y1="484.8" x2="510.1" y2="488.3" stroke="#b0b0b0" stroke-width="1.1" />
<line x1="400.1" y1="361.7" x2="403.6" y2="361.7" stroke="#b0b0b0" stroke-width="1.1" />
<line x1="400.1" y1="608" x2="403.6" y2="608" stroke="#b0b0b0" stroke-width="1.1" />
<line x1="392.3" y1="428.3" x2="364.48" y2="481.04" stroke="url(#g14)" stroke-width="2.5" stroke-linecap="round"/>
<polygon points="361.7,486.3 361.87,478.48 368.06,481.74" fill="url(#g14)"/>
<line x1="425.8" y1="400.8" x2="357.56" y2="521.09" stroke="url(#g15)" stroke-width="2.5" stroke-linecap="round"/>
<polygon points="354.2,527 354.67,518.07 361.63,522.02" fill="url(#g15)"/>
<line x1="426.3" y1="446.7" x2="385.6" y2="516.77" stroke="url(#g16)" stroke-width="4.2" stroke-linecap="round"/>
<polygon points="379.2,527.8 381.11,511.56 392.35,518.09" fill="url(#g16)"/>
<line x1="485.2" y1="521.8" x2="430.53" y2="589.76" stroke="url(#g17)" stroke-width="2.5" stroke-linecap="round"/>
<polygon points="426.8,594.4 428.46,586.75 433.91,591.14" fill="url(#g17)"/>
<line x1="425.8" y1="400.8" x2="381.12" y2="483.76" stroke="url(#g18)" stroke-width="0.01" stroke-linecap="round"/>
<polygon points="378.3,489 378.54,481.18 384.7,484.5" fill="url(#g18)"/>
<line x1="383.7" y1="459.2" x2="419.44" y2="504.65" stroke="url(#g19)" stroke-width="4.4" stroke-linecap="butt"/>
<polygon points="426.8,514 412.84,507.17 423.45,498.82" fill="url(#g19)"/>
<circle cx="422.8" cy="392.5" r="2.35" fill="none" stroke="#1430fa" stroke-width="1.8"/>
<circle cx="424.7" cy="420" r="2.35" fill="none" stroke="#1430fa" stroke-width="1.8"/>
<circle cx="363" cy="495" r="2.35" fill="none" stroke="#1430fa" stroke-width="1.8"/>
<rect x="369.6" y="401.8" width="5.2" height="5.2" fill="none" stroke="#1430fa" stroke-width="1.9"/>
<rect x="396.9" y="437.4" width="5.2" height="5.2" fill="none" stroke="#1430fa" stroke-width="1.9"/>
<rect x="401.6" y="438.7" width="5.2" height="5.2" fill="none" stroke="#1430fa" stroke-width="1.9"/>
<polygon points="520.9,491 524.9,495 520.9,499 516.9,495" fill="#1430fa"/>
<polygon points="478.6,519 482.6,523 478.6,527 474.6,523" fill="#1430fa"/>
<polygon points="454.8,544.2 458.8,548.2 454.8,552.2 450.8,548.2" fill="#1430fa"/>
<polygon points="430.8,388.32 434.32,394.72 427.28,394.72" fill="#1430fa"/>
<polygon points="417,395.32 420.52,401.72 413.48,401.72" fill="#1430fa"/>
<polygon points="429.7,409.62 433.22,416.02 426.18,416.02" fill="#1430fa"/>
<circle cx="380.8" cy="478.3" r="2.35" fill="none" stroke="#ff2a0a" stroke-width="1.8"/>
<circle cx="378" cy="494.2" r="2.35" fill="none" stroke="#ff2a0a" stroke-width="1.8"/>
<circle cx="375.3" cy="497" r="2.35" fill="none" stroke="#ff2a0a" stroke-width="1.8"/>
<rect x="361.6" y="451.2" width="5.2" height="5.2" fill="none" stroke="#ff2a0a" stroke-width="1.9"/>
<rect x="364.4" y="487.9" width="5.2" height="5.2" fill="none" stroke="#ff2a0a" stroke-width="1.9"/>
<rect x="354.1" y="506.9" width="5.2" height="5.2" fill="none" stroke="#ff2a0a" stroke-width="1.9"/>
<polygon points="406.1,580 410.1,584 406.1,588 402.1,584" fill="#ff2a0a"/>
<polygon points="438.1,588.8 442.1,592.8 438.1,596.8 434.1,592.8" fill="#ff2a0a"/>
<polygon points="437.3,596 441.3,600 437.3,604 433.3,600" fill="#ff2a0a"/>
<polygon points="324.5,561.3 328.9,569.3 320.1,569.3" fill="#ff2a0a"/>
<polygon points="393.7,486.4 398.1,494.4 389.3,494.4" fill="#ff2a0a"/>
<polygon points="356.7,520.4 361.1,528.4 352.3,528.4" fill="#ff2a0a"/>
<text transform="scale(0.9 1)" x="435.56" y="367.3" font-family="Liberation Serif" font-size="13.4" font-weight="normal" text-anchor="end" fill="#111" stroke="#111" stroke-width="0.25">0.4</text>
<text x="373.3" y="385.8" font-family="Liberation Serif" font-size="11.5" font-weight="bold" text-anchor="start" fill="#111" >PC3</text>
<text transform="scale(0.9 1)" x="435.22" y="490.6" font-family="Liberation Serif" font-size="13.4" font-weight="normal" text-anchor="end" fill="#111" stroke="#111" stroke-width="0.25">0</text>
<text transform="scale(0.9 1)" x="448.67" y="505.6" font-family="Liberation Serif" font-size="13.4" font-weight="normal" text-anchor="middle" fill="#111" stroke="#111" stroke-width="0.25">0</text>
<text transform="scale(0.9 1)" x="331.44" y="505.6" font-family="Liberation Serif" font-size="13.4" font-weight="normal" text-anchor="middle" fill="#111" stroke="#111" stroke-width="0.25">-0.5</text>
<text transform="scale(0.9 1)" x="566.11" y="505.8" font-family="Liberation Serif" font-size="13.4" font-weight="normal" text-anchor="middle" fill="#111" stroke="#111" stroke-width="0.25">0.5</text>
<text transform="scale(0.9 1)" x="435.56" y="614.4" font-family="Liberation Serif" font-size="13.4" font-weight="normal" text-anchor="end" fill="#111" stroke="#111" stroke-width="0.25">-0.4</text>
<text x="474.2" y="505.5" font-family="Liberation Serif" font-size="11.5" font-weight="bold" text-anchor="start" fill="#111" >PC1</text>
</svg>
</body></html>
